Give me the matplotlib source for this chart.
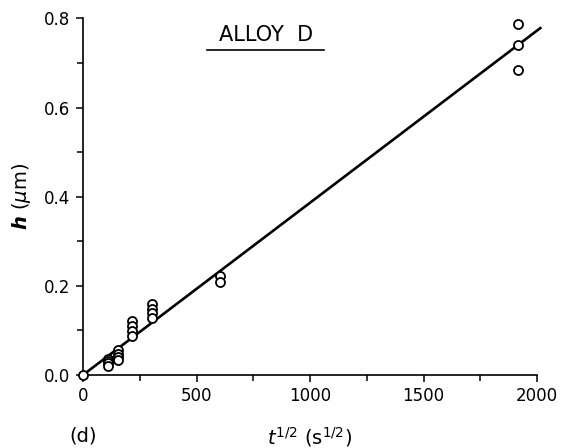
import matplotlib
matplotlib.use("Agg")
import matplotlib.pyplot as plt
from matplotlib.ticker import MultipleLocator

# sqrt(t) in s^1/2 and thickness h in um
x_pts = [0,
         110, 110, 110, 110,
         153, 153, 153, 153,
         217, 217, 217, 217,
         302, 302, 302, 302,
         603, 603,
         1915, 1915, 1915]
h_pts = [0.0,
         0.036, 0.031, 0.026, 0.020,
         0.056, 0.047, 0.041, 0.034,
         0.120, 0.110, 0.099, 0.087,
         0.159, 0.147, 0.138, 0.128,
         0.222, 0.209,
         0.787, 0.740, 0.685]

# fitted straight line through the origin
fit_x = [0, 2019]
fit_h = [0.0, 0.780]

fig = plt.figure(figsize=(5.74, 4.48), dpi=100)
ax = fig.add_axes([0.1446, 0.163, 0.791, 0.796])

ax.plot(fit_x, fit_h, color='black', lw=1.9, solid_capstyle='butt', clip_on=False, zorder=2)
ax.plot(x_pts, h_pts, 'o', ms=6.5, mfc='white', mec='black', mew=1.3, clip_on=False, zorder=3)

ax.set_xlim(0, 2000)
ax.set_ylim(0, 0.8)
ax.xaxis.set_major_locator(MultipleLocator(500))
ax.xaxis.set_minor_locator(MultipleLocator(250))
ax.yaxis.set_major_locator(MultipleLocator(0.2))
ax.yaxis.set_minor_locator(MultipleLocator(0.1))
ax.yaxis.set_major_formatter(matplotlib.ticker.FormatStrFormatter('%.1f'))

for s in ['top', 'right']:
    ax.spines[s].set_visible(False)
for s in ['left', 'bottom']:
    ax.spines[s].set_linewidth(1.2)

ax.tick_params(which='both', direction='out', width=1.1, labelsize=12, pad=4)
ax.tick_params(which='major', length=5)
ax.tick_params(which='minor', length=4)

ax.set_xlabel(r'$t^{1/2}$ (s$^{1/2}$)', fontsize=14, labelpad=14)
ax.set_ylabel(r'$\boldsymbol{h}$ ($\mu$m)', fontsize=14, labelpad=8)

ax.text(0.403, 0.952, 'ALLOY  D', transform=ax.transAxes, ha='center', va='center',
        fontsize=15)
ax.plot([0.273, 0.531], [0.91, 0.91], transform=ax.transAxes, color='black', lw=1.2, clip_on=False)

fig.text(83 / 574, 1 - 436 / 448, '(d)', ha='center', va='center', fontsize=14)

fig.savefig('out.png', dpi=100)
